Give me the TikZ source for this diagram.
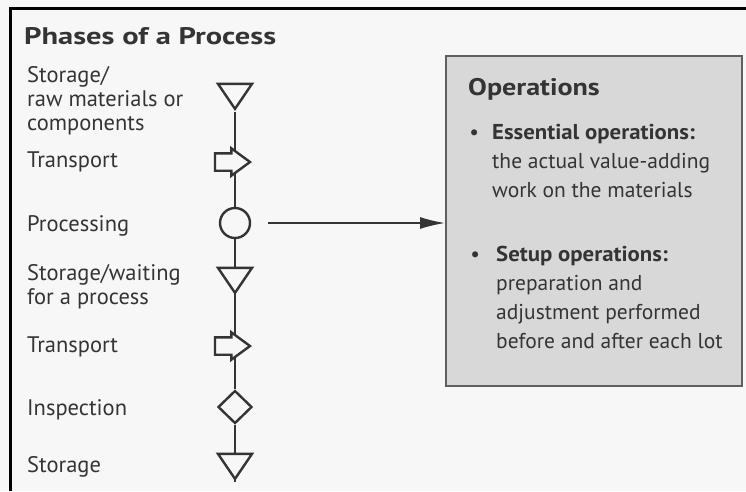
\documentclass[tikz,border=0pt]{standalone}
\usepackage{fontspec}
\setmainfont{PT Sans}
\usetikzlibrary{shapes.geometric,shapes.arrows,arrows.meta,backgrounds}
\definecolor{inkgray}{RGB}{52,52,52}
\definecolor{boxgray}{RGB}{216,216,216}
\definecolor{boxline}{RGB}{95,95,95}
\definecolor{paper}{RGB}{247,247,247}
\tikzset{
  symb/.style={draw=inkgray, line width=2.4pt, inner sep=0pt, fill=paper},
  storesym/.style={symb, isosceles triangle, isosceles triangle stretches,
    shape border rotate=270, minimum width=34pt, minimum height=25pt},
  movesym/.style={symb, single arrow, inner ysep=7.5pt, single arrow head extend=5pt,
    single arrow tip angle=72.6, minimum height=35pt},
  procsym/.style={symb, circle, minimum size=30pt},
  inspsym/.style={symb, diamond, minimum width=34pt, minimum height=33pt},
  phase/.style={anchor=base west, inner sep=0pt, align=left, text=inkgray,
    font=\fontsize{22.5}{24}\selectfont},
  optext/.style={anchor=base west, inner sep=0pt, align=left, text=inkgray,
    font=\fontsize{21.5}{29}\selectfont},
  heading/.style={anchor=base west, inner sep=0pt, text=inkgray,
    font=\bfseries\fontsize{24}{28}\selectfont},
  link/.style={draw=inkgray, line width=1.5pt}
}
\newcommand{\boldlead}[1]{{\bfseries\addfontfeature{FakeStretch=1.06}#1}}
\begin{document}
\begin{tikzpicture}[x=1pt, y=-1pt]
\useasboundingbox (0,0) rectangle (746,491);
\draw[line width=3pt] (10,491) -- (10,8.5) -- (746,8.5);

\node[heading] (title) at (24,44) {\addfontfeature{FakeStretch=1.27}Phases of a Process};

\node[phase] (t1) at (27,130) {Storage/\\raw materials or\\components};
\node[phase] (t2) at (27,167) {Transport};
\node[phase] (t3) at (27,231) {Processing};
\node[phase] (t4) at (27,304) {Storage/waiting\\for a process};
\node[phase] (t5) at (27,352) {Transport};
\node[phase] (t6) at (27,415) {Inspection};
\node[phase] (t7) at (27,472) {Storage};

\node[storesym, anchor=apex] (s1) at (235,112) {};
\node[movesym, anchor=tip] (m1) at (252,162) {};
\coordinate (m1base) at (235,162);
\node[procsym] (p1) at (235,223) {};
\node[storesym, anchor=apex] (s2) at (235,296) {};
\node[movesym, anchor=tip] (m2) at (252,346) {};
\coordinate (m2base) at (235,346);
\node[inspsym] (i1) at (235,407) {};
\node[storesym, anchor=apex] (s3) at (235,482) {};

\begin{pgfonlayer}{background}
\fill[paper] (0,0) rectangle (746,491);
\draw[link] (s1.apex) -- (m1base);
\draw[link] (m1base) -- (p1);
\draw[link] (p1) -- (s2.apex);
\draw[link] (s2.apex) -- (m2base);
\draw[link] (m2base) -- (i1);
\draw[link] (i1) -- (s3.apex);
\end{pgfonlayer}

\node[draw=boxline, fill=boxgray, line width=1.5pt, anchor=north west,
  minimum width=296pt, minimum height=330pt, inner sep=0pt] (ops) at (445,55) {};

\node[heading] (opstitle) at (468,95) {\addfontfeature{FakeStretch=1.17}Operations};
\node[optext] (ess) at (492,197)
  {\llap{\textbullet\hspace{13pt}}\boldlead{Essential operations:}\\the actual value-adding\\work on the materials};
\node[optext] (setup) at (496,348)
  {\llap{\textbullet\hspace{16pt}}\boldlead{Setup operations:}\\preparation and\\adjustment performed\\before and after each lot};

\draw[link, shorten <=17pt, -{Latex[length=25pt, width=12pt]}] (p1) -- (p1 -| ops.west);
\end{tikzpicture}
\end{document}
